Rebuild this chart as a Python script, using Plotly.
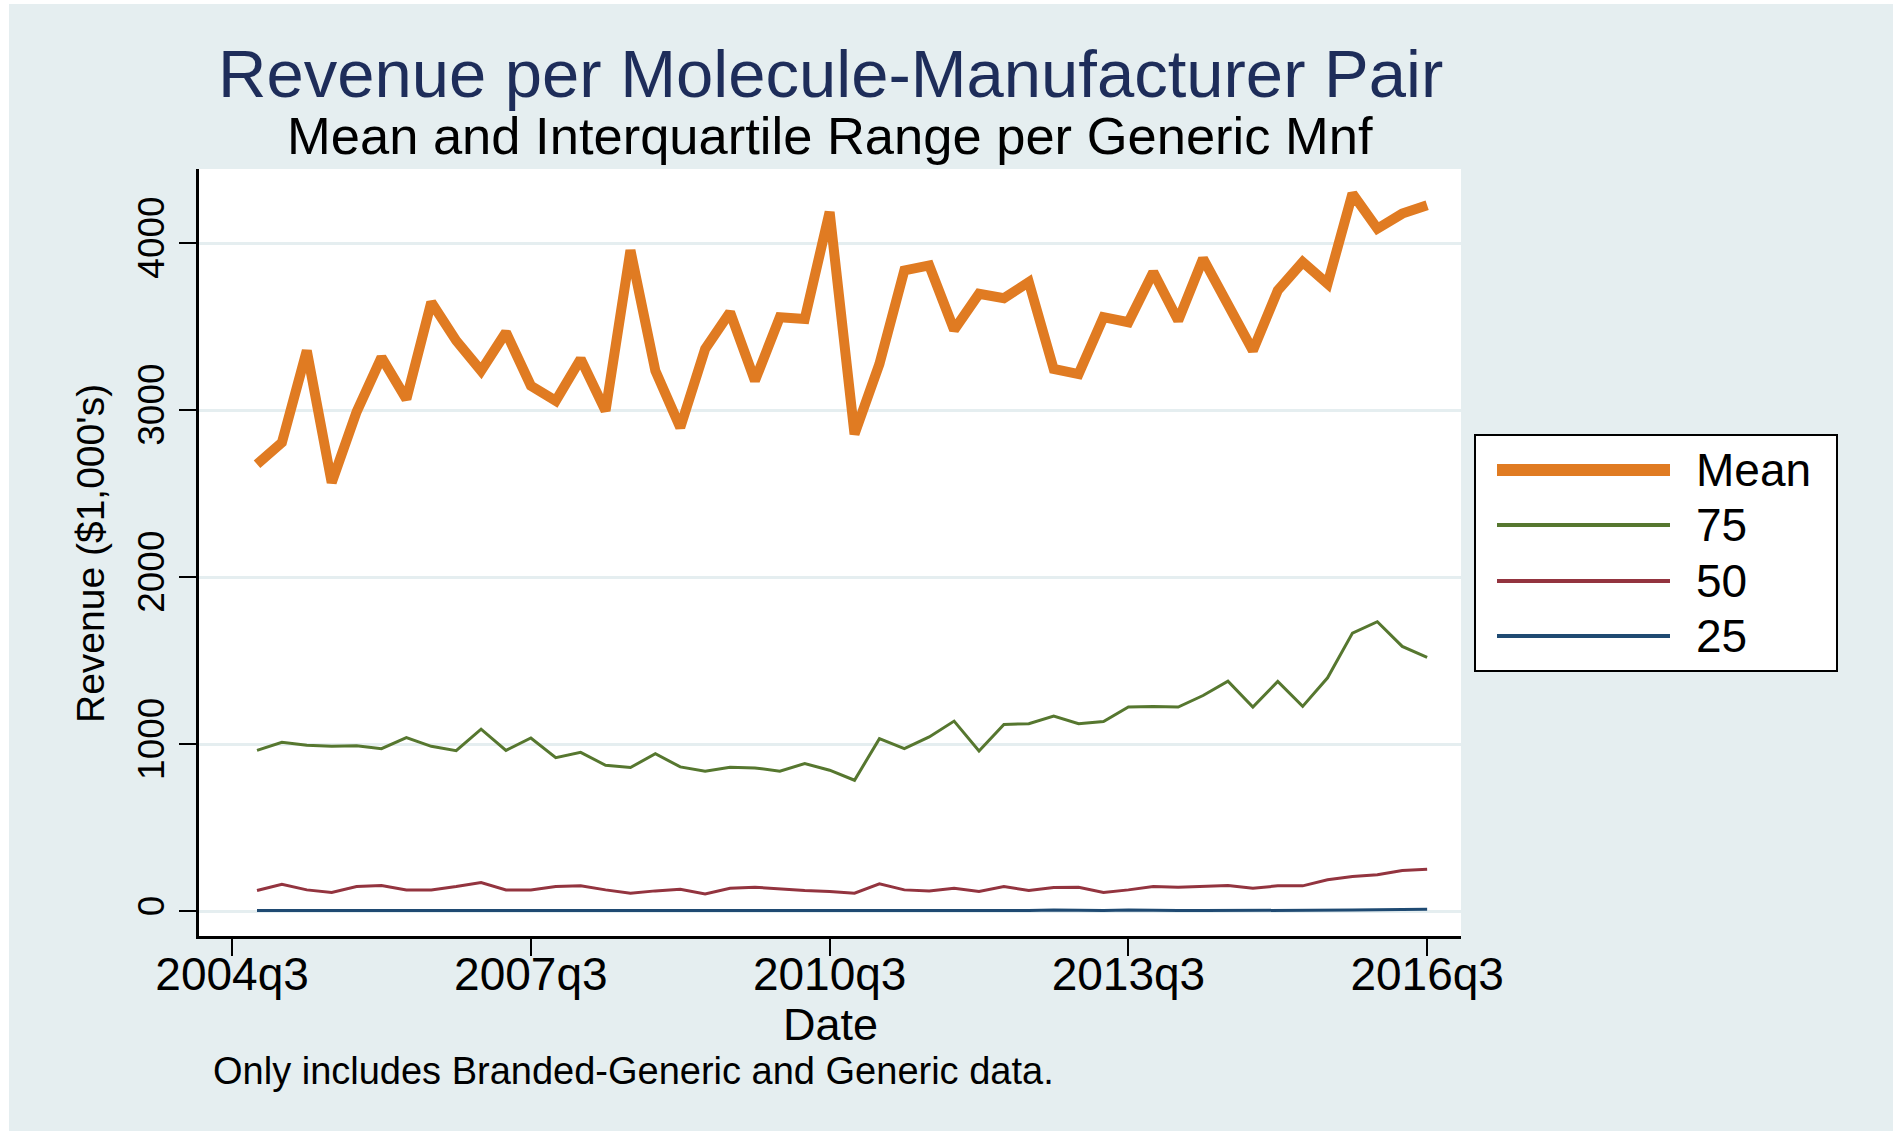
import plotly.graph_objects as go

# ---------------- data ----------------
quarters = [
    "2004q4",
    "2005q1", "2005q2", "2005q3", "2005q4",
    "2006q1", "2006q2", "2006q3", "2006q4",
    "2007q1", "2007q2", "2007q3", "2007q4",
    "2008q1", "2008q2", "2008q3", "2008q4",
    "2009q1", "2009q2", "2009q3", "2009q4",
    "2010q1", "2010q2", "2010q3", "2010q4",
    "2011q1", "2011q2", "2011q3", "2011q4",
    "2012q1", "2012q2", "2012q3", "2012q4",
    "2013q1", "2013q2", "2013q3", "2013q4",
    "2014q1", "2014q2", "2014q3", "2014q4",
    "2015q1", "2015q2", "2015q3", "2015q4",
    "2016q1", "2016q2", "2016q3",
]

mean_rev = [2676, 2806, 3356, 2566, 2990, 3316, 3066, 3646, 3416, 3236, 3466, 3146,
            3056, 3306, 2996, 3956, 3236, 2896, 3366, 3586, 3176, 3556, 3546, 4186,
            2856, 3276, 3836, 3866, 3480, 3696, 3670, 3766, 3246, 3216, 3556, 3526,
            3826, 3536, 3906, 3636, 3356, 3716, 3886, 3756, 4296, 4086, 4176, 4226]

p75 = [964, 1012, 994, 988, 992, 974, 1040, 988, 962, 1091, 964, 1038,
       920, 952, 875, 861, 944, 865, 839, 863, 859, 839, 885, 845,
       785, 1034, 974, 1044, 1139, 960, 1119, 1123, 1169, 1123, 1137, 1223,
       1227, 1223, 1292, 1378, 1223, 1376, 1227, 1398, 1666, 1734, 1586, 1521]

p50 = [125, 163, 129, 113, 149, 155, 129, 129, 149, 173, 129, 129,
       149, 153, 129, 109, 123, 133, 105, 139, 145, 133, 125, 119,
       109, 165, 129, 123, 139, 119, 149, 125, 143, 145, 113, 129,
       149, 145, 149, 155, 139, 153, 153, 189, 209, 219, 245, 252]

p25 = [6, 6, 5, 3, 3, 5, 5, 5, 6, 7, 5, 5,
       6, 6, 5, 3, 3, 5, 3, 3, 5, 6, 5, 5,
       6, 6, 7, 5, 5, 6, 5, 5, 9, 5, 5, 9,
       5, 5, 5, 5, 5, 6, 7, 7, 8, 10, 12, 13]

x_tick_labels = ["2004q3", "2007q3", "2010q3", "2013q3", "2016q3"]
y_tick_values = [0, 1000, 2000, 3000, 4000]

series_names = ["Mean", "75", "50", "25"]
series_colors = ["#e07b22", "#56772f", "#93343f", "#1f4a72"]
series_widths = [10, 3, 3, 3]
legend_widths = [12, 4, 4, 4]

# ---------------- helpers ----------------
def qnum(label):
    y, q = label.split("q")
    return int(y) * 4 + int(q) - 1

xs = [qnum(q) for q in quarters]
tickvals = [qnum(t) for t in x_tick_labels]

W, H = 1893, 1131
# plot area in page pixels
PL, PR, PT, PB = 199, 1461, 169, 936


def px_x(px):
    return (px - PL) / (PR - PL)


def px_y(py):
    return (PB - py) / (PB - PT)


FONT = "Liberation Sans, Arial, Helvetica, sans-serif"
BG = "#e5eef0"

fig = go.Figure()
for name, vals, col, w in zip(series_names, [mean_rev, p75, p50, p25],
                              series_colors, series_widths):
    fig.add_trace(go.Scatter(x=xs, y=vals, mode="lines", name=name,
                             line=dict(color=col, width=w),
                             showlegend=False))

x0 = qnum("2004q3")
fig.update_layout(
    width=W, height=H,
    margin=dict(l=PL, r=W - PR, t=PT, b=H - PB, pad=0),
    paper_bgcolor=BG,
    plot_bgcolor="white",
    font=dict(family=FONT, color="black"),
    xaxis=dict(
        range=[x0 - 1.33, x0 + 49.36],
        tickvals=tickvals, ticktext=x_tick_labels,
        ticks="outside", ticklen=17, tickwidth=2, tickcolor="black",
        showline=True, linecolor="black", linewidth=3,
        showgrid=False, zeroline=False,
        ticklabelstandoff=-21,
        tickfont=dict(size=46, family=FONT, color="black"),
    ),
    yaxis=dict(
        range=[-147, 4443],
        tickvals=y_tick_values,
        ticks="outside", ticklen=17, tickwidth=2, tickcolor="black",
        showline=True, linecolor="black", linewidth=3,
        showgrid=True, gridcolor=BG, gridwidth=3, zeroline=False,
        tickangle=-90,
        tickfont=dict(size=37, family=FONT, color="black"),
    ),
)

shapes = [
    # thin white borders at the left and top edges of the picture
    dict(type="rect", xref="paper", yref="paper", x0=px_x(0), x1=px_x(9),
         y0=px_y(H), y1=px_y(0), fillcolor="white", line=dict(width=0), layer="below"),
    dict(type="rect", xref="paper", yref="paper", x0=px_x(0), x1=px_x(W),
         y0=px_y(4), y1=px_y(0), fillcolor="white", line=dict(width=0), layer="below"),
    # legend box
    dict(type="rect", xref="paper", yref="paper", x0=px_x(1475), x1=px_x(1837),
         y0=px_y(671), y1=px_y(435), fillcolor="white",
         line=dict(color="black", width=2)),
]
annotations = [
    dict(text="Revenue per Molecule-Manufacturer Pair", xref="paper", yref="paper",
         x=0.5, y=px_y(74), xanchor="center", yanchor="middle", showarrow=False,
         font=dict(size=67, color="#1e2d5a", family=FONT)),
    dict(text="Mean and Interquartile Range per Generic Mnf", xref="paper", yref="paper",
         x=0.5, y=px_y(136), xanchor="center", yanchor="middle", showarrow=False,
         font=dict(size=52.5, color="black", family=FONT)),
    dict(text="Date", xref="paper", yref="paper",
         x=0.5, y=px_y(1024), xanchor="center", yanchor="middle", showarrow=False,
         font=dict(size=45, color="black", family=FONT)),
    dict(text="Revenue ($1,000's)", xref="paper", yref="paper", textangle=-90,
         x=px_x(90), y=px_y(554), xanchor="center", yanchor="middle", showarrow=False,
         font=dict(size=39, color="black", family=FONT)),
    dict(text="Only includes Branded-Generic and Generic data.", xref="paper", yref="paper",
         x=px_x(211), y=px_y(1071), xanchor="left", yanchor="middle", showarrow=False,
         font=dict(size=38, color="black", family=FONT)),
]

row_y = [470, 525, 581, 636]
for name, col, lw, ry in zip(series_names, series_colors, legend_widths, row_y):
    shapes.append(dict(type="line", xref="paper", yref="paper",
                       x0=px_x(1497), x1=px_x(1670), y0=px_y(ry), y1=px_y(ry),
                       line=dict(color=col, width=lw)))
    annotations.append(dict(text=name, xref="paper", yref="paper",
                            x=px_x(1694), y=px_y(ry), xanchor="left", yanchor="middle",
                            showarrow=False,
                            font=dict(size=46, color="black", family=FONT)))

fig.update_layout(shapes=shapes, annotations=annotations)

fig.write_html(
    "out.html",
    config={"displayModeBar": False},
    post_script="document.body.style.margin='0';document.body.style.overflow='hidden';",
)
